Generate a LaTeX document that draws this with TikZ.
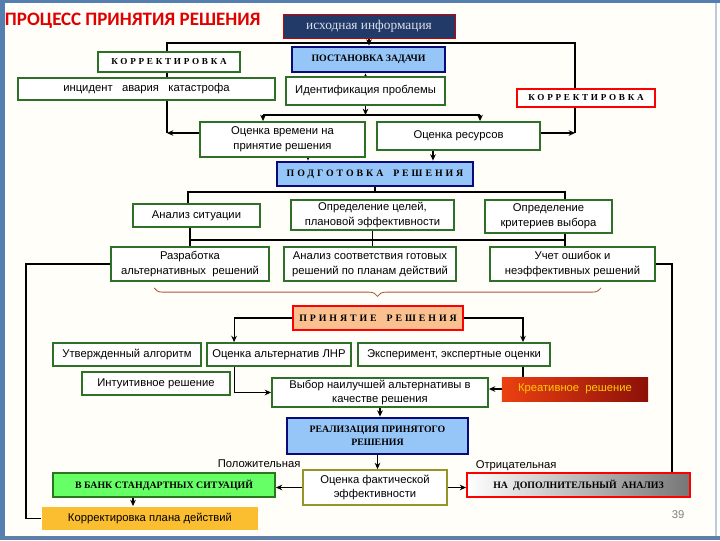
\documentclass[tikz,border=0pt]{standalone}
\usepackage{fontspec}
\setmainfont{Liberation Serif}
\setsansfont{Liberation Sans}
\newfontfamily\titlefont{Carlito}
\newfontfamily\spacedfont[LetterSpace=30]{Liberation Serif}
\usetikzlibrary{arrows.meta, positioning, calc, decorations.pathreplacing}

\definecolor{pagebg}{RGB}{255,254,248}
\definecolor{framecol}{RGB}{84,126,176}
\definecolor{titlered}{RGB}{225,0,0}
\definecolor{srcnavy}{RGB}{34,58,104}
\definecolor{srctext}{RGB}{222,222,236}
\definecolor{boxgreen}{RGB}{46,112,40}
\definecolor{navyline}{RGB}{10,10,120}
\definecolor{headblue}{RGB}{150,198,248}
\definecolor{decidefill}{RGB}{250,192,144}
\definecolor{creatL}{RGB}{236,64,18}
\definecolor{creatR}{RGB}{140,16,8}
\definecolor{creattext}{RGB}{255,204,0}
\definecolor{olivebox}{RGB}{150,150,40}
\definecolor{bankgreen}{RGB}{102,255,102}
\definecolor{bankborder}{RGB}{40,120,30}
\definecolor{planorange}{RGB}{250,190,48}
\definecolor{extragray}{RGB}{118,118,118}
\definecolor{bracecol}{RGB}{170,84,64}

\pgfdeclarelayer{bg}
\pgfdeclarelayer{wires}
\pgfsetlayers{bg,wires,main}

\begin{document}
\begin{tikzpicture}[
    x=0.025cm, y=-0.025cm,
    >={Stealth[length=4.5pt,width=4pt]},
    plain/.style={draw=boxgreen, line width=1.3pt, fill=white, align=center,
                  inner sep=1pt, font=\sffamily\fontsize{8}{10.5}\selectfont},
    bluehead/.style={draw=navyline, line width=2pt, fill=headblue, align=center,
                     inner sep=1pt, font=\bfseries\fontsize{7}{9}\selectfont},
    spaced/.style={font=\spacedfont\bfseries\fontsize{#1}{#1}\selectfont},
    spaced/.default=7,
    wire/.style={line width=0.8pt},
    lbl/.style={inner sep=1pt, font=\sffamily\fontsize{8}{9}\selectfont}
  ]
  \useasboundingbox (0,0) rectangle (720,540);

  % page and frame
  \begin{pgfonlayer}{bg}
    \fill[pagebg] (0,0) rectangle (720,540);
    \fill[framecol] (0,0) rectangle (5,540);
    \fill[framecol] (0,0) rectangle (720,3);
    \fill[framecol!80!gray] (0,536) rectangle (720,540);
    \draw[framecol!40, line width=1pt] (716,3) -- (716,536);
  \end{pgfonlayer}

  \node[anchor=west, text=titlered,
        font=\titlefont\bfseries\fontsize{13.5}{15}\selectfont] (title)
    at (0,21) {ПРОЦЕСС ПРИНЯТИЯ РЕШЕНИЯ};
  \node[draw=red!80!black, line width=0.6pt, fill=srcnavy, text=srctext,
        font=\fontsize{9.5}{11}\selectfont,
        minimum width=4.3cm, minimum height=0.6cm] (src)
    at (369,26) {исходная информация};

  % top part
  \node[bluehead, minimum width=3.825cm, minimum height=0.625cm] (task)
    at (368.5,59.5) {ПОСТАНОВКА ЗАДАЧИ};
  \node[plain, spaced=6.5, minimum width=3.55cm, minimum height=0.5cm] (corrL)
    at (169,62) {КОРРЕКТИРОВКА};
  \node[plain, minimum width=6.425cm, minimum height=0.55cm] (incident)
    at (146.5,89) {инцидент\ \ \ авария\ \ \ катастрофа};
  \node[plain, minimum width=3.975cm, minimum height=0.7cm] (ident)
    at (365.5,91) {Идентификация проблемы};
  \node[plain, spaced=6.5, draw=red, minimum width=3.45cm,
        minimum height=0.45cm] (corrR)
    at (586,98) {КОРРЕКТИРОВКА};
  \node[plain, minimum width=4.125cm, minimum height=0.875cm] (timeest)
    at (282.5,139.5) {Оценка времени на\\принятие решения};
  \node[plain, minimum width=4.075cm, minimum height=0.7cm] (resest)
    at (458.5,136) {Оценка ресурсов};

  % preparation
  \node[bluehead, spaced, minimum width=4.9cm, minimum height=0.6cm] (prep)
    at (375,174) {ПОДГОТОВКА\quad РЕШЕНИЯ};
  \node[plain, minimum width=3.175cm, minimum height=0.575cm] (sit)
    at (196.5,215.5) {Анализ ситуации};
  \node[plain, minimum width=4.075cm, minimum height=0.75cm] (goals)
    at (372.5,215) {Определение целей,\\плановой эффективности};
  \node[plain, minimum width=3.175cm, minimum height=0.825cm] (crit)
    at (548.5,216.5) {Определение\\критериев выбора};
  \node[plain, minimum width=3.95cm, minimum height=0.85cm] (alts)
    at (190,264) {Разработка\\альтернативных\ \ решений};
  \node[plain, minimum width=4.3cm, minimum height=0.85cm] (match)
    at (370,264) {Анализ соответствия готовых\\решений по планам действий};
  \node[plain, minimum width=4.125cm, minimum height=0.85cm] (errs)
    at (572.5,264) {Учет ошибок и\\неэффективных решений};

  % decision
  \node[bluehead, spaced, fill=decidefill, draw=red, minimum width=4.25cm,
        minimum height=0.6cm] (decide)
    at (378,318) {ПРИНЯТИЕ\quad РЕШЕНИЯ};
  \node[plain, minimum width=3.7cm, minimum height=0.575cm] (algo)
    at (127,354.5) {Утвержденный алгоритм};
  \node[plain, minimum width=3.6cm, minimum height=0.575cm] (lnr)
    at (279,354.5) {Оценка альтернатив ЛНР};
  \node[plain, minimum width=4.8cm, minimum height=0.575cm] (expert)
    at (454,354.5) {Эксперимент, экспертные оценки};
  \node[plain, minimum width=3.7cm, minimum height=0.575cm] (intuit)
    at (156,383.5) {Интуитивное решение};
  \node[plain, minimum width=5.4cm, minimum height=0.725cm] (best)
    at (380,392.5) {Выбор наилучшей альтернативы в\\качестве решения};
  \node[left color=creatL, right color=creatR, text=creattext,
        font=\sffamily\fontsize{8}{9}\selectfont,
        minimum width=3.65cm, minimum height=0.6cm] (creative)
    at (575,389) {Креативное\ \ решение};

  % realisation
  \node[bluehead, minimum width=4.525cm, minimum height=0.9cm] (impl)
    at (377.5,436) {РЕАЛИЗАЦИЯ ПРИНЯТОГО\\РЕШЕНИЯ};
  \node[plain, draw=olivebox, minimum width=3.6cm, minimum height=0.875cm] (eff)
    at (375,487.5) {Оценка фактической\\эффективности};
  \node[bluehead, fill=bankgreen, draw=bankborder, line width=1.3pt,
        minimum width=5.55cm, minimum height=0.6cm] (bank)
    at (164,485) {В БАНК СТАНДАРТНЫХ СИТУАЦИЙ};
  \node[plain, draw=none, fill=planorange, minimum width=5.4cm,
        minimum height=0.575cm] (plan)
    at (150,518.5) {Корректировка плана действий};
  \node[bluehead, draw=red, line width=1.3pt, left color=white,
        middle color=white, right color=extragray,
        minimum width=5.575cm, minimum height=0.6cm] (extra)
    at (578.5,485) {НА\ \ ДОПОЛНИТЕЛЬНЫЙ\ \ АНАЛИЗ};

  \node[lbl, anchor=south east] (poslbl) at (eff.north west) {Положительная};
  \node[lbl, anchor=south west] (neglbl) at ([xshift=0.2cm]extra.north west)
    {Отрицательная};
  \node[lbl, text=gray] (pgnum) at (678,515) {39};

  % bus points
  \coordinate (busL) at (167,43);
  \coordinate (busR) at (575,43);
  \coordinate (loopL) at (167,133);
  \coordinate (loopR) at (575,133);
  \coordinate (ebusL) at (263,115);
  \coordinate (ebusR) at (480,115);
  \coordinate (pbusL) at (188,192);
  \coordinate (pbusR) at (565,192);
  \coordinate (qbusL) at (190,240);
  \coordinate (qbusR) at (565,240);
  \coordinate (tp) at ($(timeest.south)+(25.5,0)$);
  \coordinate (rp) at ($(resest.south)+(-25.5,0)$);
  \coordinate (dl) at ($(lnr.north west)+(28,0)$);
  \coordinate (dr) at ($(expert.north)+(69,0)$);
  \coordinate (bp) at ($(bank.south)+(-31,0)$);
  \coordinate (lloop) at (26,400);
  \coordinate (rloop) at (672,400);

  \begin{pgfonlayer}{wires}
    \draw[wire, line width=1.2pt] (loopL) -- (busL) -- (busR) -- (loopR);
    \draw[wire, ->] (src.south) -- (src.south |- task.north);
    \draw[wire, ->] (ident.north) -- (ident.north |- task.south);
    \draw[wire, ->] (ident.south) -- (ident.south |- ebusL);
    \draw[wire] (ebusL) -- (ebusR);
    \draw[wire, ->] (ebusL) -- (ebusL |- timeest.north);
    \draw[wire, ->] (ebusR) -- (ebusR |- resest.north);
    \draw[wire, ->] (timeest.west |- loopL) -- (loopL);
    \draw[wire, ->] (resest.east |- loopR) -- (loopR);
    \draw[wire, ->] (tp) -- (tp |- prep.north);
    \draw[wire, ->] (rp) -- (rp |- prep.north);

    \draw[wire] (prep.south) -- (prep.south |- pbusL);
    \draw[wire] (pbusL |- sit.north) -- (pbusL) -- (pbusR) -- (pbusR |- crit.north);
    \draw[wire] (qbusL) -- (qbusR);
    \draw[wire] (qbusL |- sit.south) -- (qbusL |- alts.north);
    \draw[wire] (goals.south) -- (goals.south |- match.north);
    \draw[wire] (qbusR |- crit.south) -- (qbusR |- errs.north);

    \draw[wire] (alts.west) -| (lloop) |- (plan.west);
    \draw[wire] (errs.east) -| (rloop) -- (rloop |- extra.north);

    \draw[wire, ->] (decide.west) -| (dl);
    \draw[wire, ->] (decide.east) -| (dr);
    \draw[wire, ->] (dl |- lnr.south) |- (best.west);
    \draw[wire] (dr |- expert.south) -- (dr |- creative.north);
    \draw[wire, ->] (creative.west) -- (creative.west -| best.east);
    \draw[wire, ->] (best.south) -- (best.south |- impl.north);
    \draw[wire, ->] (impl.south) -- (impl.south |- eff.north);
    \draw[wire, ->] (eff.west) -- (eff.west -| bank.east);
    \draw[wire, ->] (eff.east) -- (eff.east -| extra.west);
    \draw[wire, ->] (bp) -- (bp |- plan.north);
  \end{pgfonlayer}

  % brace under the preparation block
  \draw[bracecol, line width=0.6pt, decorate,
        decoration={brace, mirror, amplitude=6pt}]
    (alts.south west) ++(44,6) -- ($(errs.south east)+(-55,6)$);
\end{tikzpicture}
\end{document}
